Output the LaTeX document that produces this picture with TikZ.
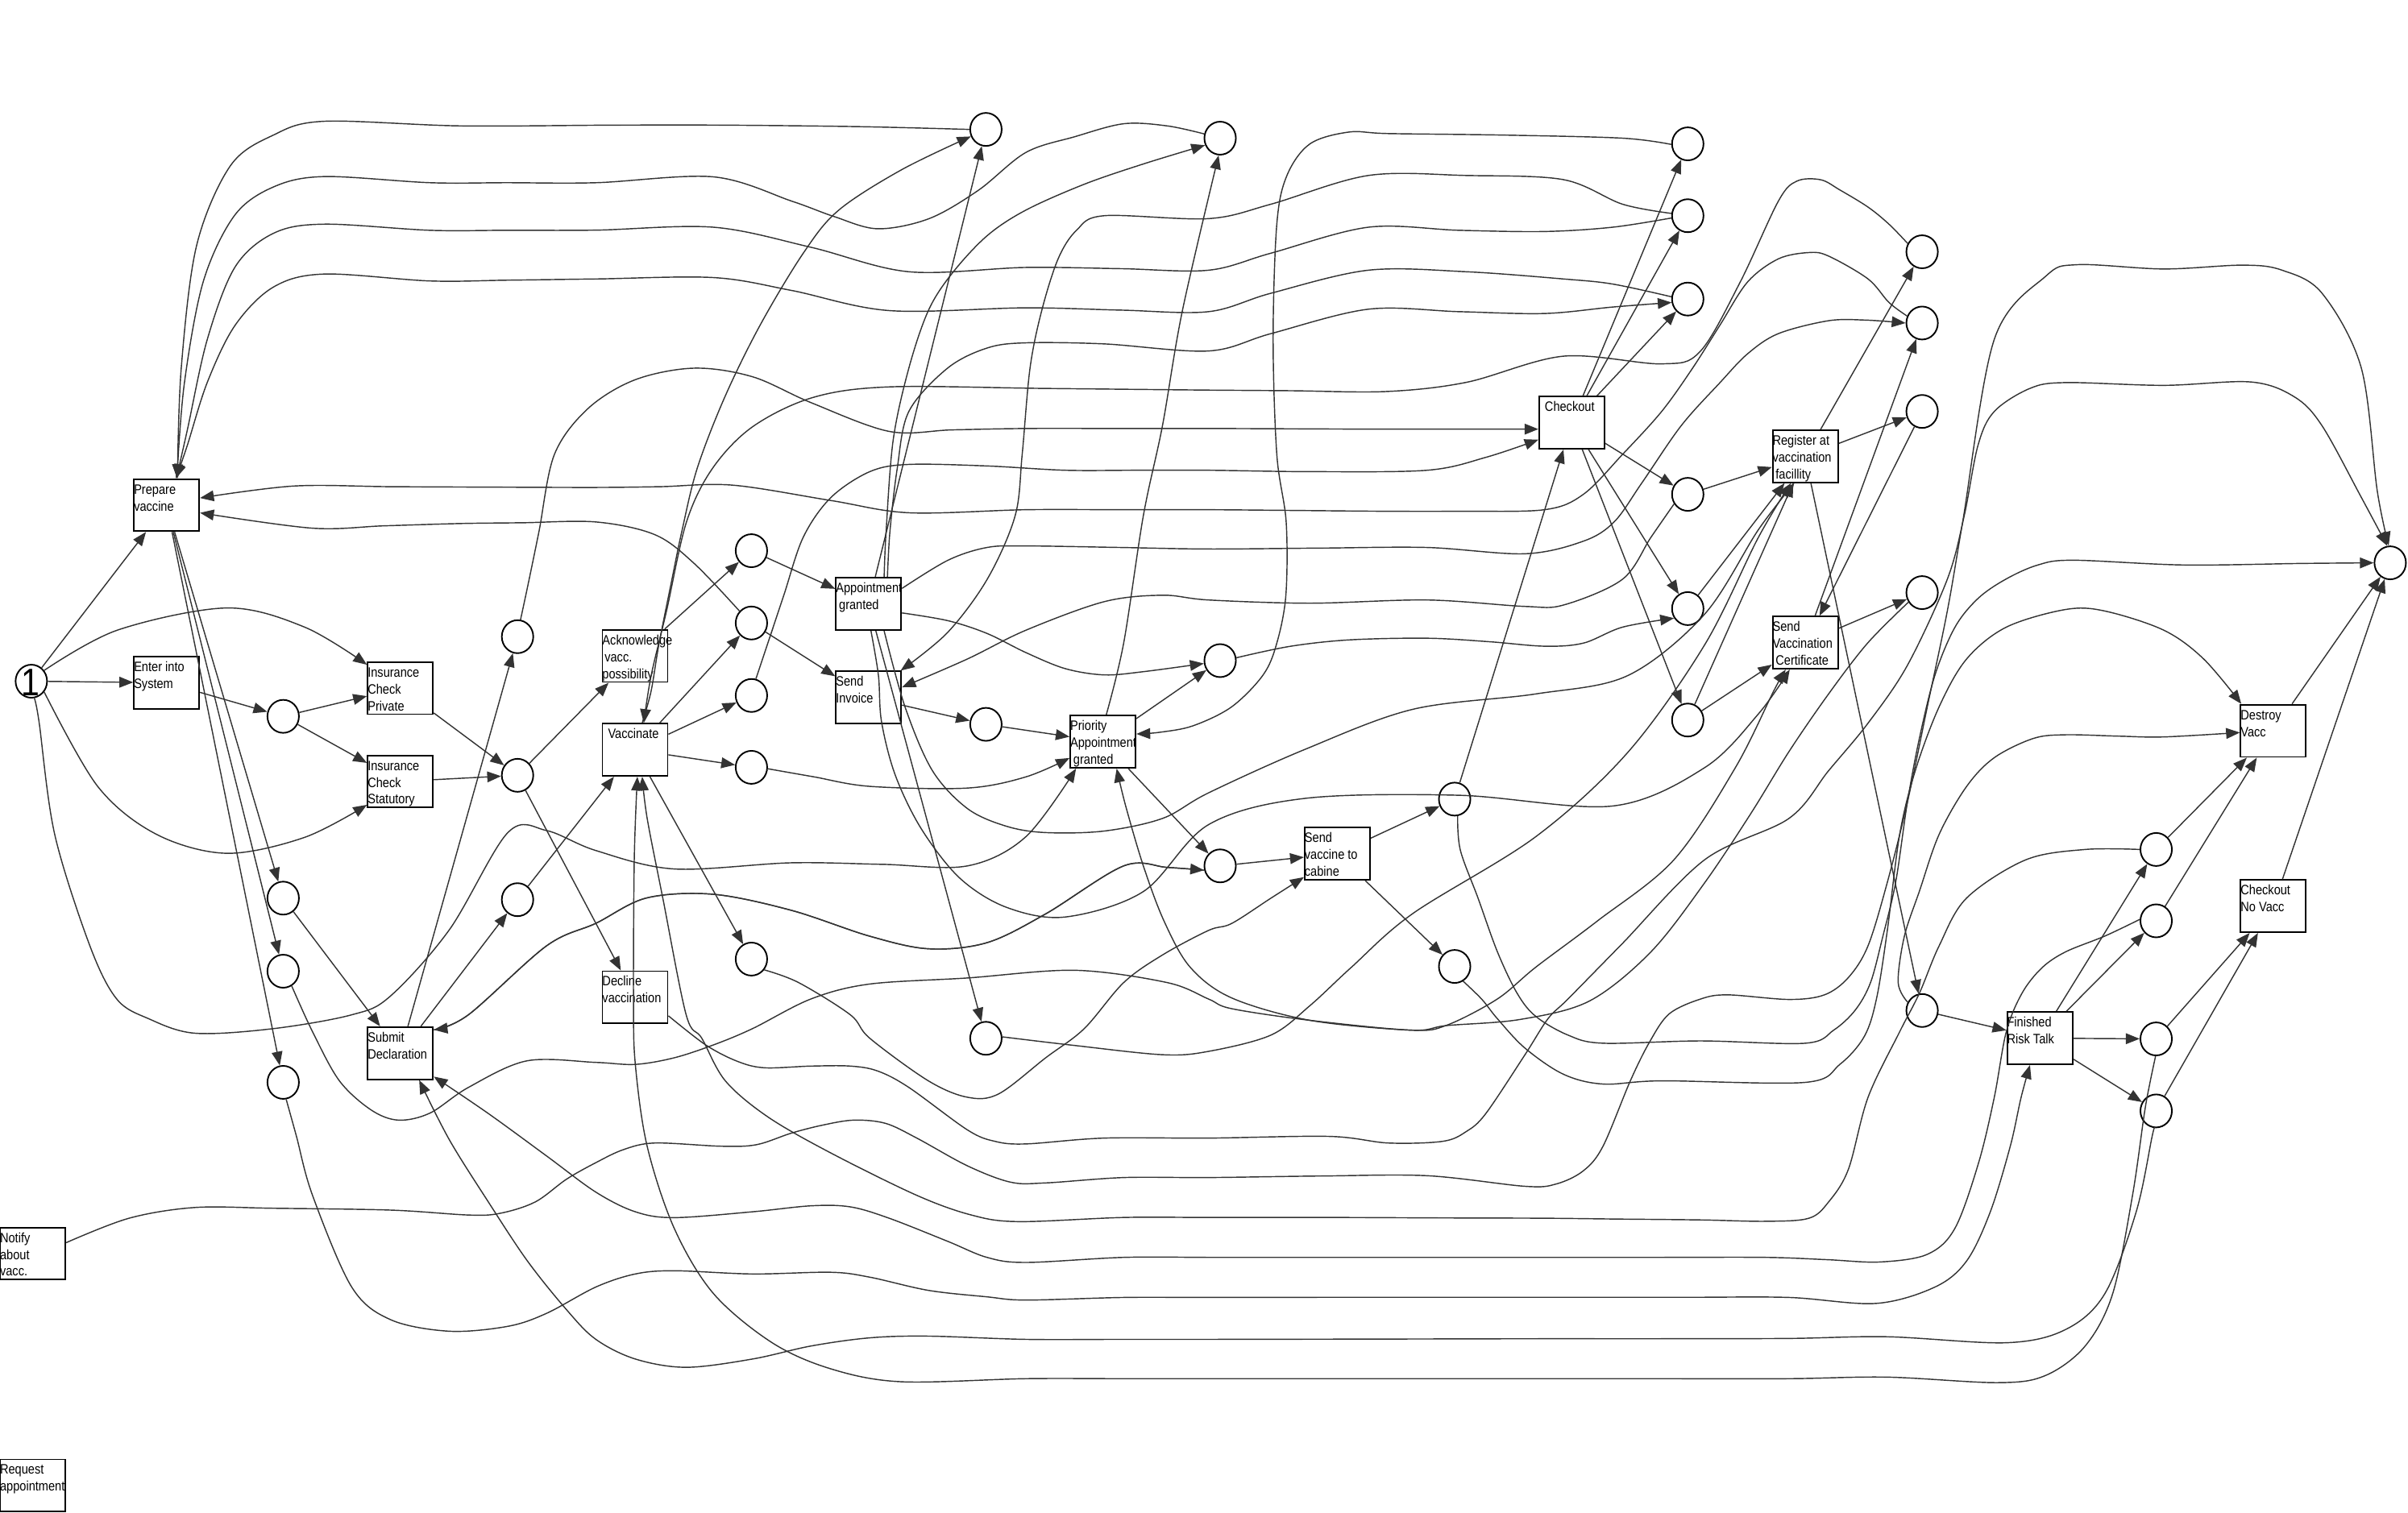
\documentclass[tikz,border=0pt]{standalone}
\usepackage{fontspec}
\newfontfamily\lblfont[FakeStretch=0.86]{Liberation Sans}
\usetikzlibrary{arrows.meta,shapes.geometric}
\definecolor{ln}{HTML}{333333}
\begin{document}
\begin{tikzpicture}[x=1pt,y=-1pt,
  trans/.style={draw=black, line width=1pt, minimum width=42.5pt, minimum height=34pt, inner sep=0pt},
  place/.style={draw=black, line width=1pt, ellipse, minimum width=20.5pt, minimum height=21.5pt, inner sep=0pt},
  arc/.style={draw=ln, line width=0.75pt, -{Triangle[length=9pt,width=7pt]}},
  lbl/.style={anchor=north west, inner sep=0pt, align=left, font=\lblfont\fontsize{8.9}{11}\selectfont},
  sm/.style={smooth, tension=0.55}
]
\useasboundingbox (0,0) rectangle (1568,985);

% ---------- transitions ----------
\node[trans] (tPV) at (108.5,329) {};
\node[trans] (tEnter) at (108.5,444.7) {};
\node[trans] (tICP) at (260.7,448.2) {};
\node[trans] (tICS) at (260.7,509) {};
\node[trans] (tSD) at (260.7,686) {};
\node[trans] (tNotify) at (21.3,816.5) {};
\node[trans] (tReq) at (21.3,967.6) {};
\node[trans] (tAck) at (413.5,427.2) {};
\node[trans] (tVac) at (413.5,488.4) {};
\node[trans] (tDec) at (413.5,649.6) {};
\node[trans] (tAG) at (565.6,393.4) {};
\node[trans] (tSI) at (565.6,454.3) {};
\node[trans] (tPAG) at (718.2,483.1) {};
\node[trans] (tSVC) at (870.8,556.1) {};
\node[trans] (tCO) at (1023.5,275.3) {};
\node[trans] (tReg) at (1175.5,297.2) {};
\node[trans] (tCert) at (1175.5,418.6) {};
\node[trans] (tDestroy) at (1480.3,476) {};
\node[trans] (tCONV) at (1480.3,590.2) {};
\node[trans] (tFRT) at (1328.2,676.2) {};

% ---------- transition labels ----------
\node[lbl] (lPV) at ([xshift=0.3pt,yshift=-3pt]tPV.north west) {\rule{0pt}{7pt}Prepare\\vaccine};
\node[lbl] (lEnter) at ([xshift=0.3pt,yshift=-3pt]tEnter.north west) {\rule{0pt}{7pt}Enter into\\System};
\node[lbl] (lICP) at ([xshift=0.3pt,yshift=-3pt]tICP.north west) {\rule{0pt}{7pt}Insurance\\Check\\Private};
\node[lbl] (lICS) at ([xshift=0.3pt,yshift=-3pt]tICS.north west) {\rule{0pt}{7pt}Insurance\\Check\\Statutory};
\node[lbl] (lSD) at ([xshift=0.3pt,yshift=-3pt]tSD.north west) {\rule{0pt}{7pt}Submit\\Declaration};
\node[lbl] (lNotify) at ([xshift=0.3pt,yshift=-3pt]tNotify.north west) {\rule{0pt}{7pt}Notify\\about\\vacc.};
\node[lbl] (lReq) at ([xshift=0.3pt,yshift=-3pt]tReq.north west) {\rule{0pt}{7pt}Request\\appointment};
\node[lbl] (lAck) at ([xshift=0.3pt,yshift=-3pt]tAck.north west) {\rule{0pt}{7pt}Acknowledge\\\hspace*{1.5pt}vacc.\\possibility};
\node[lbl] (lVac) at ([xshift=4pt,yshift=-3pt]tVac.north west) {\rule{0pt}{7pt}Vaccinate};
\node[lbl] (lDec) at ([xshift=0.3pt,yshift=-3pt]tDec.north west) {\rule{0pt}{7pt}Decline\\vaccination};
\node[lbl] (lAG) at ([xshift=0.3pt,yshift=-3pt]tAG.north west) {\rule{0pt}{7pt}Appointment\\\hspace*{2pt}granted};
\node[lbl] (lSI) at ([xshift=0.3pt,yshift=-3pt]tSI.north west) {\rule{0pt}{7pt}Send\\Invoice};
\node[lbl] (lPAG) at ([xshift=0.3pt,yshift=-3pt]tPAG.north west) {\rule{0pt}{7pt}Priority\\Appointment\\\hspace*{2pt}granted};
\node[lbl] (lSVC) at ([xshift=0.3pt,yshift=-3pt]tSVC.north west) {\rule{0pt}{7pt}Send\\vaccine to\\cabine};
\node[lbl] (lCO) at ([xshift=4pt,yshift=-3pt]tCO.north west) {\rule{0pt}{7pt}Checkout};
\node[lbl] (lReg) at ([xshift=0.3pt,yshift=-3pt]tReg.north west) {\rule{0pt}{7pt}Register at\\vaccination\\\hspace*{2pt}facillity};
\node[lbl] (lCert) at ([xshift=0.3pt,yshift=-3pt]tCert.north west) {\rule{0pt}{7pt}Send\\Vaccination\\\hspace*{2pt}Certificate};
\node[lbl] (lDestroy) at ([xshift=0.3pt,yshift=-3pt]tDestroy.north west) {\rule{0pt}{7pt}Destroy\\Vacc};
\node[lbl] (lCONV) at ([xshift=0.3pt,yshift=-3pt]tCONV.north west) {\rule{0pt}{7pt}Checkout\\No Vacc};
\node[lbl] (lFRT) at ([xshift=0.3pt,yshift=-3pt]tFRT.north west) {\rule{0pt}{7pt}Finished\\Risk Talk};

% ---------- places ----------
\node[place] (pS) at (20.4,443.7) {};
\node[font=\lblfont\fontsize{25}{25}\selectfont, inner sep=0pt] (tok) at (19.8,444.5) {1};
\node[place] (p1) at (184.4,466.6) {};
\node[place] (p2) at (184.4,585) {};
\node[place] (p3) at (184.4,632.6) {};
\node[place] (p4) at (184.4,705) {};
\node[place] (p5) at (337,414.7) {};
\node[place] (p6) at (337,505) {};
\node[place] (p7) at (337,586) {};
\node[place] (p8) at (489.3,358.7) {};
\node[place] (p9) at (489.3,405.8) {};
\node[place] (p10) at (489.3,453) {};
\node[place] (p11) at (489.3,499.8) {};
\node[place] (p12) at (489.3,624.7) {};
\node[place] (p13) at (642,84.3) {};
\node[place] (p14) at (642,471.8) {};
\node[place] (p15) at (642,676.3) {};
\node[place] (p16) at (794.5,90) {};
\node[place] (p17) at (794.5,430.3) {};
\node[place] (p18) at (794.5,564) {};
\node[place] (p19) at (947.2,520.5) {};
\node[place] (p20) at (947.2,629.5) {};
\node[place] (p21) at (1099,93.7) {};
\node[place] (p22) at (1099,140.5) {};
\node[place] (p23) at (1099,194.8) {};
\node[place] (p24) at (1099,322) {};
\node[place] (p25) at (1099,396.4) {};
\node[place] (p26) at (1099,469) {};
\node[place] (p27) at (1251.6,164) {};
\node[place] (p28) at (1251.6,210.4) {};
\node[place] (p29) at (1251.6,268) {};
\node[place] (p30) at (1251.6,386) {};
\node[place] (p31) at (1251.6,658.2) {};
\node[place] (p32) at (1404,553.3) {};
\node[place] (p33) at (1404,599.8) {};
\node[place] (p34) at (1404,676.7) {};
\node[place] (p35) at (1404,723.6) {};
\node[place] (pEnd) at (1556.4,366.6) {};

% ---------- straight arcs ----------
\draw[arc] (pS) -- (tPV);
\draw[arc] (pS) -- (tEnter);
\draw[arc] (tEnter) -- (p1);
\draw[arc] (p1) -- (tICP);
\draw[arc] (p1) -- (tICS);
\draw[arc] (tICP) -- (p6);
\draw[arc] (tICS) -- (p6);
\draw[arc] (p6) -- (tAck);
\draw[arc] (p6) -- (tDec);
\draw[arc] (tPV) -- (p2);
\draw[arc] (tPV) -- (p3);
\draw[arc] (tPV) -- (p4);
\draw[arc] (p2) -- (tSD);
\draw[arc] (tSD) -- (p5);
\draw[arc] (tSD) -- (p7);
\draw[arc] (p7) -- (tVac);
\draw[arc] (tAck) -- (p8);
\draw[arc] (p8) -- (tAG);
\draw[arc] (p9) -- (tSI);
\draw[arc] (tVac) -- (p9);
\draw[arc] (tVac) -- (p10);
\draw[arc] (tVac) -- (p11);
\draw[arc] (tVac) -- (p12);
\draw[arc] (tSI) -- (p14);
\draw[arc] (p14) -- (tPAG);
\draw[arc] (tPAG) -- (p17);
\draw[arc] (tPAG) -- (p18);
\draw[arc] plot[sm] coordinates {(tPAG.83) (731.7,418.8) (744.5,335.9) (757,277) (770,202) (p16.-95)};
\draw[arc] (tAG) -- (p13);
\draw[arc] (tAG) -- (p15);
\draw[arc] (p18) -- (tSVC);
\draw[arc] (tSVC) -- (p19);
\draw[arc] (tSVC) -- (p20);
\draw[arc] (p19) -- (tCO);
\draw[arc] (tCO) -- (p21);
\draw[arc] (tCO) -- (p22);
\draw[arc] (tCO) -- (p23);
\draw[arc] (tCO) -- (p24);
\draw[arc] (tCO) -- (p25);
\draw[arc] (tCO) -- (p26);
\draw[arc] (p24) -- (tReg);
\draw[arc] (p25) -- (tReg);
\draw[arc] (p26) -- (tReg);
\draw[arc] (p26) -- (tCert);
\draw[arc] (tReg) -- (p27);
\draw[arc] (tReg) -- (p29);
\draw[arc] (tReg) -- (p31);
\draw[arc] (tCert) -- (p28);
\draw[arc] (tCert) -- (p30);
\draw[arc] (p29) -- (tCert.62);
\draw[arc] (p31) -- (tFRT);
\draw[arc] (tFRT) -- (p32);
\draw[arc] (tFRT) -- (p33);
\draw[arc] (tFRT) -- (p34);
\draw[arc] (tFRT) -- (p35);
\draw[arc] (p32) -- (tDestroy);
\draw[arc] (p33) -- (tDestroy);
\draw[arc] (p34) -- (tCONV);
\draw[arc] (p35) -- (tCONV);
\draw[arc] (tDestroy) -- (pEnd);
\draw[arc] (tCONV) -- (pEnd);

% ---------- curved arcs ----------
\draw[arc] plot[sm] coordinates {(pS.40) (76.3,410.5) (147.6,396) (198.4,408.5) (tICP.145)};
\draw[arc] plot[sm] coordinates {(pS.-40) (63.6,512.2) (101.8,543.4) (147.6,555.8) (198.4,545.4) (tICS.215)};
\draw[arc] plot[sm] coordinates {(pS.-80) (25.4,470) (35.6,543.4) (58.5,616) (76,650.7) (96.7,663.5) (127,673) (178,670) (229,661) (254,649) (292.6,605.6) (330.7,542.3) (356,541) (388,554) (439,566) (515,562) (575,563) (630,564) (668,545) (tPAG.225)};

\draw[arc] plot[sm] coordinates {(p13.180) (560,82.5) (470,81.5) (400,81.5) (300,82) (211,79) (178,88) (150,108) (128,160) (118,240) (tPV.68)};
\draw[arc] plot[sm] coordinates {(p16.165) (760,82) (731.7,80.6) (700,89) (668,99.3) (637,124) (605,142.4) (571.5,149) (543,141) (515.5,131) (464.6,115.2) (388.3,119) (330,119) (280,119) (211,115) (178,121.8) (152.6,140.5) (132.3,183.6) (120,250) (tPV.69)};
\draw[arc] plot[sm] coordinates {(p22.188) (1050,148) (1005.7,150.8) (950,150) (891,148) (827.6,164.9) (787,176) (730,175) (668,174.2) (591.8,177) (528.2,161.1) (464.6,148) (388.3,149.9) (330,150) (280,150) (211,146) (178,152) (153,174) (135,221) (122,280) (tPV.70)};
\draw[arc] plot[sm] coordinates {(p23.172) (1050,185) (1018,181.7) (954.8,177) (891,176) (827.6,191) (787,203) (730,202) (668,200.5) (579,202.3) (515.5,189.2) (464.6,180.8) (388.3,181.7) (330,182.5) (280,183) (211,178.5) (178,187) (153,212) (135,249) (122,290) (tPV.71)};
\draw[arc] plot[sm] coordinates {(p28.155) (1230,197) (1216.4,181.7) (1190.7,166.8) (1177.9,164.5) (1158,168.6) (1138,183.6) (1120,211.7) (1102,240) (1082,268) (1056.5,296) (1031,322) (1005.7,332) (950,333) (900,333) (845,332.5) (787,332) (730,332) (668,332) (592,334) (541,326) (477,316) (430,317) (388,317.5) (320,317.3) (254,317) (191,316.6) (tPV.12)};
\draw[arc] plot[sm] coordinates {(p9.135) (452,367) (426.5,348.3) (388.3,340) (340,340.5) (300,341) (250,342.5) (203,344) (tPV.-13)};

\draw[arc] plot[sm] coordinates {(tAG.55) (579.5,346) (584.2,305.4) (591.8,268) (617,239.8) (642.7,226.7) (668,223.3) (719,224) (787,228.6) (827.6,217.3) (891,201.4) (950,203) (1005.7,204.2) (1050,200) (p23.192)};
\draw[arc] plot[sm] coordinates {(p21.182) (1056.5,90) (980,88) (904,87) (878.5,86) (853,93.7) (838,114.3) (831.4,146) (829,221) (831.4,296) (837.5,340) (837.3,387.7) (831.4,418.9) (822.5,439.6) (802,460.4) (776.7,472.8) (755,477) (tPAG.13)};
\draw[arc] plot[sm] coordinates {(p22.172) (1056.5,133) (1018,117) (954.8,114.3) (891,114.3) (827.6,133) (787,142.4) (719,140.5) (701,150) (689,168.6) (678.3,202.4) (670.7,239.8) (665.6,296) (661,336) (643,377) (617,412) (tSI.40)};
\draw[arc] plot[sm] coordinates {(p5.80) (344,380) (351,346) (361,296) (383,266) (413.7,247.3) (452,239.8) (490,245.4) (528.2,262.3) (579,281) (620,280) (668,279.1) (730,279.1) (787,279.1) (840,279.3) (891,279.5) (960,279.5) (tCO.191)};
\draw[arc] plot[sm] coordinates {(p10.75) (500,418.9) (510.4,387.7) (523,350) (541,324.1) (566.4,307.2) (591.8,302.5) (642.7,303.5) (693.6,306.3) (740,306.3) (787,306.3) (853,307.2) (929.3,306.3) (967.5,297.9) (tCO.207)};
\draw[arc] plot[sm] coordinates {(p27.150) (1230,146) (1216.4,134.9) (1198,123.7) (1185.6,117.1) (1170,118) (1158,131) (1133,184) (1107,229) (1082,237) (1018,232) (955,249) (903,255) (840,254.5) (777,254) (680,253) (579,252) (529,259) (490,278) (464,305) (447,340) (434,398) (424,440) (tVac.72)};
\draw[arc] plot[sm] coordinates {(tVac.75) (424,450) (429,420) (437,380) (444,346) (454,305) (472,258.5) (495,211.7) (523,165) (546,137) (587,110.6) (p13.205)};
\draw[arc] plot[sm] coordinates {(tAG.60) (577,346) (581.6,286.6) (591.8,239.8) (604.5,202.3) (620,178) (642.7,153.6) (668.1,136.8) (706.3,119.9) (744.5,106.8) (p16.205)};
\draw[arc] plot[sm] coordinates {(tAG.25) (617.3,364.9) (642.7,356.6) (668.1,355.6) (730,356.6) (787,357.6) (860,357) (929.3,356.6) (993,360.7) (1031,352.5) (1051,340) (1069,314.7) (1094.7,277.3) (1120,249.2) (1138,230.4) (1158,217.3) (1190.7,208.9) (1215,208.5) (p28.180)};

\draw[arc] plot[sm] coordinates {(tAG.-15) (617.3,404.3) (642.7,412.6) (668.1,425.1) (693.6,435.5) (719,439.6) (744.5,437.5) (p17.190)};
\draw[arc] plot[sm] coordinates {(p17.10) (840,421) (878.5,416.8) (929.3,415.7) (970,418) (1005.7,420.9) (1031,418.9) (1056.5,408.5) (p25.215)};
\draw[arc] plot[sm] coordinates {(p11.-5) (530,506) (566.4,512.2) (630,513.3) (668.1,506) (tPAG.206)};
\draw[arc] plot[sm] coordinates {(p24.215) (1075,350) (1056.5,377.3) (1018.4,394) (993,395) (929.3,390.8) (853,392.9) (787,390.8) (757,387.7) (719,391.9) (668,410.5) (630,429.2) (tSI.17)};
\draw[arc] plot[sm] coordinates {(tAG.-60) (589.3,460.4) (607.1,501.9) (630,526.7) (655.4,538.2) (680.9,542.3) (719,541.3) (757.2,533) (787,516.4) (850,488) (920,462) (1000,452) (1060,440) (1110,400) (1145,345) (tReg.-112)};
\draw[arc] plot[sm] coordinates {(tAG.-85) (572,440) (574,470) (583,505) (600,540) (625,572) (655.4,591) (693.6,597.3) (744.5,580.7) (787,537.1) (850,520) (950,518) (1050,525) (1110,500) (1145,465) (tCert.-120)};
% Submit Declaration and the place at 564 share one spline, one arc each way
\draw[arc] plot[sm] coordinates {(tSD.35) (305,661) (356,616) (388,601.4) (421,584.9) (464.6,582.5) (515.5,593) (566,609.7) (604.6,618) (642.7,614) (681,595.2) (731.7,564) (760,565) (p18.195)};
\draw[arc] plot[sm] coordinates {(p18.195) (760,565) (731.7,564) (681,595.2) (642.7,614) (604.6,618) (566,609.7) (515.5,593) (464.6,582.5) (421,584.9) (388,601.4) (356,616) (305,661) (tSD.35)};
\draw[arc] plot[sm] coordinates {(p12.-40) (520,640) (553.7,661) (566.4,676.3) (604.5,704) (630,714.7) (650.3,712.5) (680.9,689) (706,670) (731.7,640) (757,622) (787,606) (802,601.5) (827.6,585) (tSVC.215)};
\draw[arc] plot[sm] coordinates {(p3.-60) (203.5,672) (221,704) (241.7,723) (259.5,729.6) (280,725) (305,708.3) (343,691) (388,692) (413.7,693.3) (439,689) (464.6,680.6) (490,670) (528,650.7) (566,641) (630,637) (700,632) (760,640) (786.9,650.7) (802,657) (853,664.6) (919,671) (942,667.8) (975,650.7) (1000,630) (1040,600) (1090,560) (1130,500) (1155,450) (tCert.-126)};
\draw[arc] plot[sm] coordinates {(p15.5) (700,681) (757.2,687) (787,684.8) (827.6,674.2) (853,655) (880,630) (920,595) (1000,545) (1060,490) (1110,420) (1145,350) (tReg.-118)};
\draw[arc] plot[sm] coordinates {(p30.215) (1216,419) (1190.7,452) (1165,489.4) (1140,530) (1110,575) (1075,620) (1035,652) (990,664) (942,668) (919,671) (853,664.6) (802,650) (775,630) (758,600) (744.5,564) (733,525) (tPAG.-63)};
\draw[arc] plot[sm] coordinates {(p31.150) (1236,640) (1240,610) (1250,580) (1262.7,543.4) (1280.6,512.2) (1298.6,493.5) (1324,481) (1345,478.6) (1380,479.5) (1409,480) (tDestroy.183)};

\draw[arc] plot[sm] coordinates {(p4.-80) (193,740) (203.5,778.6) (229,838.3) (254.4,859.6) (292.6,867.1) (330.7,863.9) (356,855.4) (388,838.3) (413.7,829.8) (439,827.7) (490,829.8) (541,828.7) (566.4,831.9) (604.6,840.5) (642.7,844.7) (668,846.8) (731.7,845.1) (787,845.1) (870,845) (950,845) (1030,845) (1100,845) (1165,845.1) (1221.5,849) (1260,838.3) (1280.6,821.3) (1296,789.3) (1309,746.6) (1316,715) (tFRT.-110)};
\draw[arc] plot[sm] coordinates {(p35.-95) (1401.4,740) (1391,789.3) (1370.6,842.6) (1345,866) (1306.4,874.6) (1229,870.7) (1165,871.8) (1080,872) (1000,872) (900,872.2) (787,872.4) (730,872.4) (668,872.4) (604.6,870.3) (566.4,871.4) (528.2,876.7) (490,885.2) (446.8,890.6) (413.7,885.2) (388,872.4) (369,853.2) (343.4,821.3) (318,782.9) (292.6,742.4) (tSD.-55)};
\draw[arc] plot[sm] coordinates {(p34.-92) (1400,705) (1396.3,725.3) (1388.6,778.6) (1375.7,842.6) (1357.8,876.7) (1332,895.9) (1301,900.6) (1229,897) (1165,898) (1080,898) (980,898) (880,898) (787,898) (730,898) (668,898) (586.7,900) (541,891.6) (502.8,874.6) (464.6,842.6) (439,800) (421.4,746.6) (413.7,693.3) (412.5,650.7) (413,560) (tVac.-85)};
\draw[arc] plot[sm] coordinates {(p32.180) (1357.8,553.3) (1319.2,560) (1280.6,584.9) (1262.7,616) (1249.8,647) (1237,672) (1216.4,714.7) (1203.6,761.6) (1190.7,782.9) (1177.9,793.5) (1150,795.5) (1107.4,794.6) (1050,794) (1005.7,793.5) (940,793.3) (870,793) (787,793) (731.7,793) (663,795.7) (632.5,791.4) (597,778.6) (541,751) (500,727.5) (472.3,704) (457,676.3) (446.8,661) (431.6,585) (421.4,533) (tVac.-75)};
\draw[arc] plot[sm] coordinates {(p33.175) (1370.6,609.7) (1345,620) (1329.5,630.5) (1316.6,647) (1306.4,672) (1298.6,714.7) (1288.4,757.3) (1273,800) (1255,817) (1224,822) (1190,820.5) (1150,819) (1080,819) (1000,819) (900,819) (840,819) (787,819) (731.7,819) (668,822.3) (642.7,819) (617,808.5) (579,793.5) (553.7,786.1) (528.2,785.4) (490,789.3) (439,793.1) (413.7,789.3) (388,776.5) (356,753) (318,725.3) (tSD.-35)};

\draw[arc] plot[sm] coordinates {(tNotify.18) (84,793.5) (127,786.5) (178,787) (254.4,788.2) (305,791.4) (325.6,790.3) (348.5,782.9) (369,768) (388,757.3) (406,748.8) (426.5,744.5) (469.7,746.6) (492.6,745.6) (515.5,738) (535.9,732.8) (556,729.6) (576.6,731.7) (597,741.3) (630,759.4) (658,770) (680.9,770.5) (731.7,767) (787,767) (860,766) (929.3,765.8) (993,772.7) (1013.3,771.2) (1031,762.6) (1043.8,746.6) (1061.6,704) (1074.3,678.4) (1087,660.3) (1107.4,650.7) (1125,648) (1165,651) (1188,648) (1203.6,636.7) (1216.4,616) (1229,574.5) (1242,522.6) (1255,460.3) (1268,398) (1278,340) (1298.6,221) (1332,180) (1352.6,172.4) (1409,175.2) (1460.5,172.7) (1486,176) (1512,191) (1537.6,239.8) (1548,320) (pEnd.95)};
\draw[arc] plot[sm] coordinates {(tDec.-29) (459.5,680.6) (479.9,691.2) (497.7,695.5) (528.2,694.4) (553.7,694.4) (571.5,697.6) (591.8,708.3) (630,736) (647.8,743.4) (668,745.1) (719,741.3) (787,741.3) (865.7,740.2) (904,744.5) (939.5,743.4) (954.8,737) (967.5,725.3) (993,687) (1008,663.5) (1021,650.7) (1056,615) (1110,560) (1165,533) (1190.7,502) (1216.4,471) (1242,433.4) (1268,377.3) (1279,336) (1288,290) (1298.6,268) (1321.8,253) (1345,249.2) (1409,251) (1465.7,248.8) (1494,258.5) (1512,277.3) (1537.6,324) (pEnd.100)};
\draw[arc] plot[sm] coordinates {(p19.-80) (950.9,553.7) (962.4,584.9) (975.1,620.1) (987.9,647) (1000,662) (1021,674.2) (1043.8,679.5) (1107.4,678) (1175.6,679.5) (1194,671) (1208,658) (1218,640) (1226,610) (1234.4,574.5) (1242,522.6) (1249.8,481) (1260,439.6) (1273,408.5) (1288,389.8) (1306,377.3) (1327,368) (1350,364.9) (1422,368) (1499,367) (pEnd.180)};
\draw[arc] plot[sm] coordinates {(p20.-60) (965,651) (975,663.5) (993,682.7) (1018,699.7) (1043.8,706.1) (1082,704) (1175.6,705) (1198,693.3) (1214,675) (1222,650) (1229,605.6) (1237,543.4) (1247.2,501.8) (1262.7,460.3) (1280.6,429.2) (1306.4,408.5) (1345,397) (1370.6,398) (1409,410.5) (1434.9,429.2) (tDestroy.140)};
\end{tikzpicture}
\end{document}
